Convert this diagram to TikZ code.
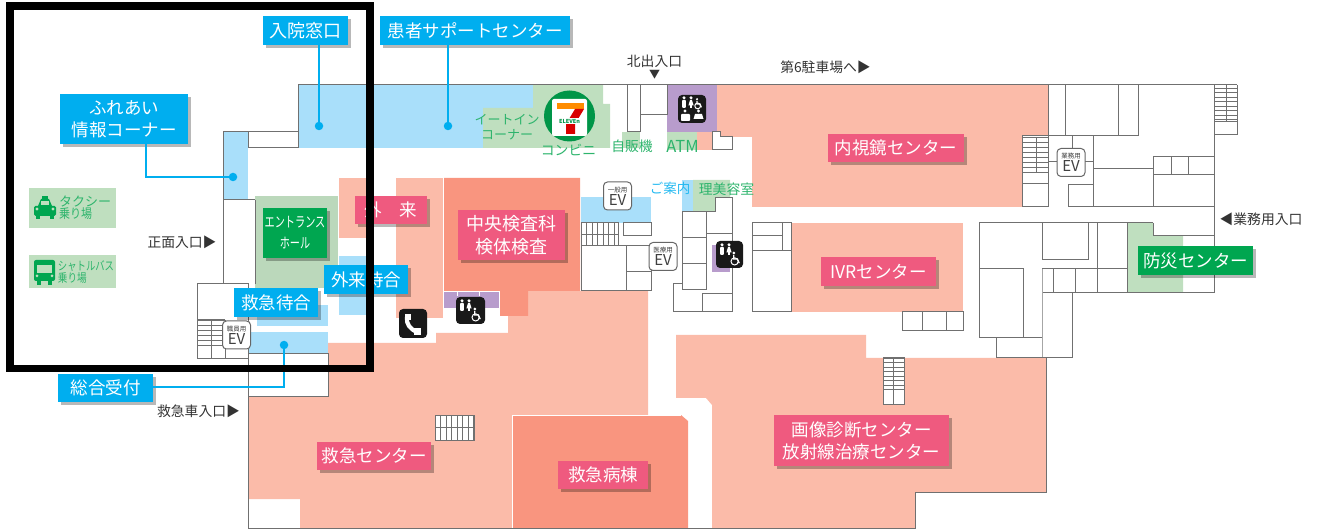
\documentclass[tikz,border=0pt]{standalone}
\usepackage{fontspec}
\usepackage{graphicx}
\setmainfont{Noto Sans CJK JP}
\usetikzlibrary{shadows}
\definecolor{salmonL}{HTML}{FBBBA9}
\definecolor{salmonD}{HTML}{F9957F}
\definecolor{pinkL}{HTML}{EF5A7F}
\definecolor{blueL}{HTML}{00AEEF}
\definecolor{blueP}{HTML}{A9DFFA}
\definecolor{greenP}{HTML}{BFDFBF}
\definecolor{greenE}{HTML}{BBD8BB}
\definecolor{greenL}{HTML}{00A650}
\definecolor{greenT}{HTML}{2DB46C}
\definecolor{purpleP}{HTML}{B89CCC}
\definecolor{wallc}{HTML}{707070}
\tikzset{
  wall/.style={draw=wallc,line width=1pt,line join=miter},
  lblbase/.style={text=white,inner sep=0pt,font=\fontsize{17.5}{22}\selectfont,align=center,
    drop shadow={shadow xshift=3pt,shadow yshift=-3pt,fill=black,opacity=.28}},
  lblblue/.style={lblbase,fill=blueL},
  lblpink/.style={lblbase,fill=pinkL},
  lblgreen/.style={lblbase,fill=greenL},
  leader/.style={draw=blueL,line width=1.4pt},
  ldot/.style={circle,fill=blueL,inner sep=0pt,minimum size=8.5pt},
  darktext/.style={text=black!80,inner sep=0pt,font=\fontsize{13.8}{15}\selectfont},
  greentext/.style={text=greenT,inner sep=0pt,font=\fontsize{13.8}{15}\selectfont,align=center},
  bluetext/.style={text=blueL!85,inner sep=0pt,font=\fontsize{13.5}{15}\selectfont},
  evbox/.style={draw=black!60,fill=white,rounded corners=4pt,line width=1pt,inner sep=0pt,align=center,
    text=black!75,minimum width=28pt,minimum height=28pt,
    font=\fontsize{15}{12}\selectfont},
  pict/.style={fill=black!90,rounded corners=4pt},
  manicon/.pic={\fill[white] (0,-5.2) circle (1.7);\fill[white,rounded corners=.8pt] (-1.9,-3.1) rectangle (1.9,4.8);},
  womanicon/.pic={\fill[white] (0,-5.2) circle (1.7);\fill[white] (-.9,-3.1)--(.9,-3.1)--(2.6,2.4)--(.9,2.4)--(.9,4.8)--(-.9,4.8)--(-.9,2.4)--(-2.6,2.4)--cycle;},
  chairicon/.pic={\fill[white] (-1.2,-6) circle (1.5);\draw[white,line width=1.3pt] (-1.2,-4)--(-1.2,0)--(2.4,0)--(4.2,4.2);\draw[white,line width=1pt] (-.4,2.4) circle (3.6);},
}
\newcommand{\hstair}[5]{\foreach \yy in {#2,#5,...,#4}{\draw[wall,line width=.7pt] (#1,\yy)--(#3,\yy);}}
\newcommand{\vstair}[5]{\foreach \xx in {#1,#5,...,#3}{\draw[wall,line width=.7pt] (\xx,#2)--(\xx,#4);}}
\newcommand{\evsmall}[1]{{\fontsize{6.5}{7}\selectfont #1}\\[1pt]EV}
\begin{document}
\begin{tikzpicture}[x=1pt,y=-1pt]
\useasboundingbox (0,0) rectangle (1318,529);
% ---------- coloured areas
\fill[salmonL] (248,397)--(328,397)--(328,343)--(436,343)--(436,333)--(508,333)--(508,291)--(648,291)--(648,415)--(512,415)--(512,528)--(300,528)--(300,499)--(248,499)--cycle;
\fill[salmonD] (444,178)--(580,178)--(580,291)--(528,291)--(528,316)--(500,316)--(500,291)--(444,291)--cycle;
\fill[salmonD] (512,415)--(681,415)--(688,421)--(688,528)--(512,528)--cycle;
\draw[white,line width=1pt] (512,528)--(512,415)--(681,415);
\fill[salmonL] (396,178)--(443,178)--(443,318)--(396,318)--cycle;
\fill[salmonL] (339,178) rectangle (370,238);
\fill[salmonL] (676,335)--(866,335)--(866,358)--(1046,358)--(1046,492)--(915,492)--(915,528)--(712,528)--(712,405)--(706,398)--(676,398)--cycle;
\fill[salmonL] (717,85)--(1048,85)--(1048,136)--(1022,136)--(1022,207)--(752,207)--(752,137)--(732,137)--(720,137)--(720,132)--(717,132)--cycle;
\fill[salmonL] (697,132) rectangle (712,150);
\fill[salmonL] (791,223) rectangle (963,312);
\fill[blueP] (298,85)--(533,85)--(533,108)--(483,108)--(483,148)--(298,148)--cycle;
\fill[blueP] (223,132) rectangle (248,200);
\fill[blueP] (339,256) rectangle (370,315);
\fill[blueP] (257,305) rectangle (328,326);
\fill[blueP] (248,332) rectangle (328,353);
\fill[blueP] (581,197) rectangle (651,223);
\fill[blueP] (682,180) rectangle (693,211);
\fill[greenP] (483,108)--(533,108)--(533,85)--(603,85)--(603,104)--(610,104)--(610,148)--(483,148)--cycle;
\fill[greenP] (622,132) rectangle (640,148);
\fill[greenP] (667,132) rectangle (697,150);
\fill[greenP] (693,180)--(730,180)--(730,198)--(715,198)--(715,211)--(693,211)--cycle;
\fill[greenP] (1127,223)--(1153,223)--(1153,236)--(1183,236)--(1183,293)--(1127,293)--cycle;
\fill[greenE] (255,196) rectangle (338,288);
\fill[purpleP] (667,85) rectangle (717,132);
\fill[purpleP] (444,292) rectangle (499,308);
\draw[white,line width=1pt] (457,292)--(457,296) (479,292)--(479,296);
\fill[purpleP] (712,245) rectangle (730,272);
\fill[greenP] (29,188) rectangle (116,228);
\fill[greenP] (29,255) rectangle (116,288);
% ---------- walls
\draw[wall] (298,148)--(298,85)--(1237,85);
\draw[wall] (223,284)--(223,132)--(298,132);
\draw[wall] (248,132)--(248,148)--(298,148);
\draw[wall] (223,200)--(255,200);
\draw[wall] (255,200)--(255,284);
\draw[wall] (197,359) rectangle (248,284);
\draw[wall] (248,354)--(328,354)--(328,397)--(248,397);
\draw[wall] (248,354)--(248,528)--(915,528)--(915,492)--(1046,492)--(1046,358);
\hstair{197}{320}{225}{348}{325}
\draw[wall] (197,320)--(225,320);
\draw[wall] (211,320)--(211,359);
\draw[wall] (225,320)--(225,359);
\draw[wall] (627,85)--(627,132)--(640,132)--(640,85);
\draw[wall] (640,115)--(667,115)--(667,85);
\draw[wall] (712,132)--(712,150)--(732,150)--(732,137)--(720,137)--(720,132)--cycle;
% EV block centre
\draw[wall] (581,223) rectangle (618,246);
\vstair{581}{223}{618}{246}{586.5}
\draw[wall] (581,234.5)--(618,234.5);
\draw[wall] (623,223) rectangle (651,236);
\draw[wall] (581,246) rectangle (626,291);
\draw[wall] (626,246)--(651,246)--(651,291)--(626,291);
\draw[wall] (626,272)--(651,272);
% cluster by restroom
\draw[wall] (682,212) rectangle (706,290);
\draw[wall] (682,238)--(706,238);
\draw[wall] (682,264)--(706,264);
\draw[wall] (706,212)--(715,212)--(715,198)--(732,198)--(732,312)--(673,312)--(673,284)--(682,284);
\draw[wall] (706,234)--(732,234);
\draw[wall] (702,294)--(732,294);
\draw[wall] (702,294)--(702,312);
% IVR side room
\draw[wall] (752,223) rectangle (791,312);
\draw[wall] (752,236)--(782,236);
\draw[wall] (752,251)--(791,251);
\draw[wall] (782,223)--(782,251);
\draw[wall] (902,312) rectangle (963,331);
\draw[wall] (922,312)--(922,331);
\draw[wall] (946,312)--(946,331);
% upper right block
\draw[wall] (1048,85)--(1048,207);
\draw[wall] (1065,85)--(1065,136);
\draw[wall] (1118,85)--(1118,136);
\draw[wall] (1138,85)--(1138,136)--(1022,136);
\draw[wall] (1214,85)--(1214,293)--(1042,293);
\draw[wall] (1237,85)--(1237,135)--(1214,135);
\hstair{1214}{88}{1237}{122}{92.5}
\draw[wall] (1214,122)--(1237,122);
\draw[wall] (1226,85)--(1226,122);
\hstair{1022}{137}{1048}{173}{142}
\draw[wall] (1036,137)--(1036,173);
\draw[wall] (1022,136)--(1022,207)--(1048,207);
\draw[wall] (1022,184)--(1048,184);
\draw[wall] (1072,136)--(1072,148);
\draw[wall] (1048,162)--(1093,162);
\draw[wall] (1093,136)--(1093,207)--(1214,207);
\draw[wall] (1068,185) rectangle (1093,207);
\draw[wall] (1093,169)--(1153,169);
\draw[wall] (1153,207)--(1153,157)--(1214,157);
\draw[wall] (1153,175)--(1214,175);
\draw[wall] (1171,157)--(1171,175);
\draw[wall] (1188,157)--(1188,175);
% lower right block
\draw[wall] (1127,293)--(1127,223)--(979,223)--(979,338)--(1023,338)--(1023,269)--(979,269);
\draw[wall] (1153,223)--(1153,236)--(1214,236);
\draw[wall] (1127,223)--(1153,223);
\draw[wall] (1042,223) rectangle (1088,260);
\draw[wall] (1042,269)--(1127,269);
\draw[wall,draw=black!35] (1042,269)--(1042,358);
\draw[wall] (996,338)--(996,358)--(1072,358)--(1072,293);
\draw[wall] (1023,338)--(1042,338);
\draw[wall] (1053,269)--(1053,293);
\draw[wall] (1075,269)--(1075,293);
\draw[wall] (1097,223)--(1097,293);
% interior stairs
\fill[white] (435,415) rectangle (474,440);
\draw[wall] (435,415) rectangle (474,440);
\vstair{435}{415}{474}{440}{440.5}
\draw[wall] (435,427.5)--(474,427.5);
\fill[white] (883,358) rectangle (904,405);
\draw[wall] (883,358) rectangle (904,405);
\hstair{883}{358}{904}{393}{362.5}
\draw[wall] (893.5,358)--(893.5,405);
% ---------- EV boxes
\node[evbox] (evstaff) at (236.5,335) {\evsmall{職員用}};
\node[evbox] (evgen) at (617.5,196) {\evsmall{一般用}};
\node[evbox] (evmed) at (663,256.5) {\evsmall{医療用}};
\node[evbox] (evwork) at (1071,162.5) {\evsmall{業務用}};
% ---------- 7-Eleven logo
\fill[greenL!90!black] (569.5,116) circle (25.5);
\fill[white,rounded corners=2pt] (552,99) rectangle (587,136);
\fill[orange!90!yellow] (557,103) rectangle (584,109);
\fill[red!85!black] (575,109)--(584,109)--(575,124)--(575,134)--(566,134)--(566,124)--cycle;
\fill[white] (558,118) rectangle (581,124);
\node[text=greenL!90!black,inner sep=0pt,font=\bfseries\fontsize{5.5}{6}\selectfont] (eleven) at (569.5,121) {ELEVEn};
% ---------- pictograms
\fill[pict] (678,95) rectangle (706,123);
\pic at (684,103) {manicon};\pic at (691,103) {womanicon};\pic[scale=.8] at (698,104) {chairicon};
\fill[white,rounded corners=.8pt] (681,114) rectangle (690,121);\fill[white] (685,111) circle (1.7);
\fill[white] (695,114)--(702,114)--(703.5,119)--(693.5,119)--cycle;\fill[white] (698.5,111) circle (1.7);
\fill[pict] (716,241) rectangle (743,268);
\pic at (722,250) {manicon};\pic at (729,250) {womanicon};\pic at (735,259) {chairicon};
\fill[pict] (456,297) rectangle (485,324);
\pic at (462,306) {manicon};\pic at (469,306) {womanicon};\pic at (476,315) {chairicon};
\fill[pict] (399,309) rectangle (427,338);
\draw[white,line width=4.2pt,line cap=round] (407,317) .. controls (406,324) and (410,329) .. (417,332);
\fill[white] (405,314) rectangle (411,320);
\fill[white] (414,328) rectangle (421,335);
% taxi and bus
\fill[greenL,rounded corners=1.5pt] (34,206) rectangle (56,216);
\fill[greenL] (38,206)--(41,199)--(49,199)--(52,206)--cycle;
\fill[greenP] (41,201) rectangle (49,205);
\fill[greenL] (42,196) rectangle (48,199);
\fill[greenL] (36,216) rectangle (40,219);\fill[greenL] (50,216) rectangle (54,219);
\fill[greenP] (37,209) circle (1.6);\fill[greenP] (53,209) circle (1.6);
\fill[greenL,rounded corners=2pt] (34,260) rectangle (55,281);
\fill[greenL] (37,281) rectangle (41,285);\fill[greenL] (48,281) rectangle (52,285);
\fill[greenP] (37,265) rectangle (52,273);
\fill[greenP] (37,276) circle (1.5);\fill[greenP] (52,276) circle (1.5);
% ---------- small texts
\node[greentext,font=\fontsize{13}{13.5}\selectfont,text=greenT,align=left] (taxi) at (85,208) {タクシー\\[-1pt]\scalebox{.85}[1]{乗り場}\hspace*{10pt}};
\node[greentext,align=left,font=\fontsize{12}{13}\selectfont] (bus) at (86,272) {\scalebox{.78}[1]{シャトルバス}\\[-1pt]\scalebox{.8}[1]{乗り場}\hspace*{14pt}};
\node[darktext] (front) at (182,242) {正面入口▶};
\node[darktext] (amb) at (198.5,411) {救急車入口▶};
\node[darktext] (north) at (654.5,61) {北出入口};
\node[darktext,font=\fontsize{11}{12}\selectfont] (northarrow) at (654.5,75) {▼};
\node[darktext] (park) at (825.5,67) {第6駐車場へ▶};
\node[darktext] (work) at (1261,219) {◀業務用入口};
\node[greentext,font=\fontsize{13}{14.5}\selectfont] (eat) at (507,127) {イートイン\\コーナー};
\node[greentext] (conv) at (568.5,150) {コンビニ};
\node[greentext] (vend) at (632,146) {自販機};
\node[greentext,font=\fontsize{16.5}{18}\selectfont] (atm) at (682.5,146) {ATM};
\node[bluetext] (info) at (670,188) {ご案内};
\node[greentext] (barber) at (726.5,189) {理美容室};
% ---------- labels
\node[lblblue,minimum width=85pt,minimum height=29pt,font=\fontsize{18}{22}\selectfont] (nyuin) at (305.5,30.5) {入院窓口};
\node[lblblue,minimum width=190pt,minimum height=29pt] (kanja) at (475,30.5) {患者サポートセンター};
\node[lblblue,minimum width=128pt,minimum height=50pt] (fureai) at (124,119) {ふれあい\\情報コーナー};
\node[lblblue,minimum width=95pt,minimum height=28pt] (sogo) at (105.5,388) {総合受付};
\node[lblblue,minimum width=84pt,minimum height=29pt] (kyuw) at (276,302.5) {救急待合};
\node[lblblue,minimum width=84pt,minimum height=29pt] (gaiw) at (366,279.5) {外来待合};
\node[lblgreen,minimum width=64pt,minimum height=50pt,font=\fontsize{14.5}{21}\selectfont] (ent) at (295,233) {\scalebox{.7}[1]{エントランス}\\\scalebox{.7}[1]{ホール}};
\node[lblgreen,minimum width=115pt,minimum height=29pt] (bosai) at (1195.5,260.5) {防災センター};
\node[lblpink,minimum width=72pt,minimum height=28pt] (gairai) at (391,210) {外　来};
\node[lblpink,minimum width=107pt,minimum height=50pt,font=\fontsize{18}{23}\selectfont] (chuo) at (511.5,235) {中央検査科\\検体検査};
\node[lblpink,minimum width=136pt,minimum height=28pt] (naishi) at (896,148) {内視鏡センター};
\node[lblpink,minimum width=115pt,minimum height=29pt] (ivr) at (878.5,271.5) {IVRセンター};
\node[lblpink,minimum width=175pt,minimum height=51pt] (gazo) at (861.5,440.5) {画像診断センター\\放射線治療センター};
\node[lblpink,minimum width=90pt,minimum height=28pt] (kbyo) at (603,475) {救急病棟};
\node[lblpink,minimum width=114pt,minimum height=28pt] (kcen) at (374,456) {救急センター};
% ---------- leaders
\node[ldot] (d1) at (319,126) {};
\node[ldot] (d2) at (448,126) {};
\node[ldot] (d3) at (233,177) {};
\node[ldot] (d4) at (284,345) {};
\draw[leader] (d1.center)--(d1.center|-nyuin.south);
\draw[leader] (d2.center)--(d2.center|-kanja.south);
\coordinate (c3) at (146,177);
\draw[leader] (c3|-fureai.south)--(c3)--(d3.center);
\coordinate (c4) at (284,387);
\draw[leader] (sogo.east|-c4)--(c4)--(d4.center);
% ---------- frame
\draw[black,line width=7.8pt,line join=miter] (9.7,6) rectangle (370,368.5);
\end{tikzpicture}
\end{document}
